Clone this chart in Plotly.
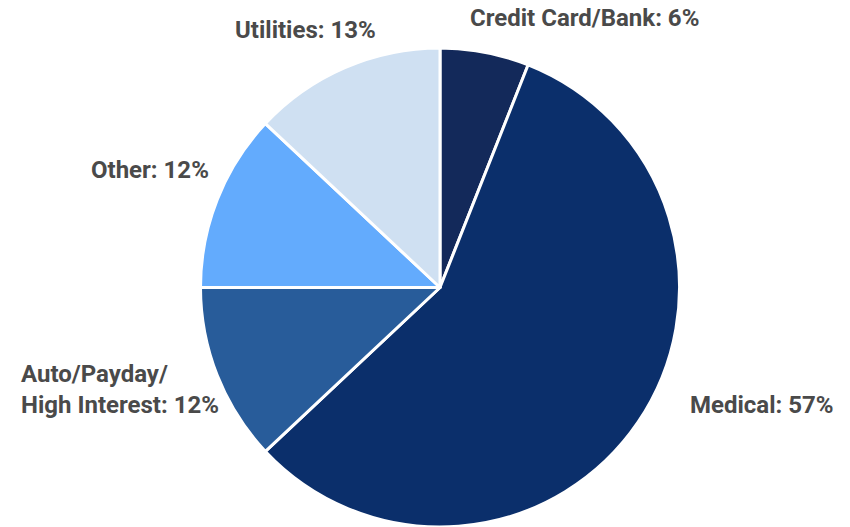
import plotly.graph_objects as go

# Debt categories, clockwise from 12 o'clock
categories = ["Credit Card/Bank", "Medical", "Auto/Payday/<br>High Interest", "Other", "Utilities"]
shares = [6, 57, 12, 12, 13]
colors = ["#13295a", "#0b2f6b", "#285c9a", "#63abfd", "#cfe0f2"]

# label anchor points in pixels (x from left, y from top) and alignment
label_pos = [(584, 18, "center"), (762, 405, "center"), (19, 389, "left"),
             (150, 170, "center"), (305, 30, "center")]

W, H = 850, 527

fig = go.Figure(go.Pie(
    labels=categories,
    values=shares,
    sort=False,
    direction="clockwise",
    rotation=0,
    marker=dict(colors=colors, line=dict(color="white", width=3)),
    textinfo="none",
    hoverinfo="label+percent",
    domain=dict(x=[200 / W, 680 / W], y=[0, 479 / H]),
    showlegend=False,
))

for cat, val, (px, py, align) in zip(categories, shares, label_pos):
    fig.add_annotation(
        x=px / W, y=1 - py / H, xref="paper", yref="paper",
        text=f"<b>{cat}: {val}%</b>", showarrow=False,
        xanchor="left" if align == "left" else "center", yanchor="middle",
        align=align,
        font=dict(family="Roboto, sans-serif", size=24, color="#4a4a4a"),
    )

fig.update_layout(
    width=W, height=H,
    margin=dict(l=0, r=0, t=0, b=0),
    paper_bgcolor="white", plot_bgcolor="white",
)

fig.write_html("out.html")
